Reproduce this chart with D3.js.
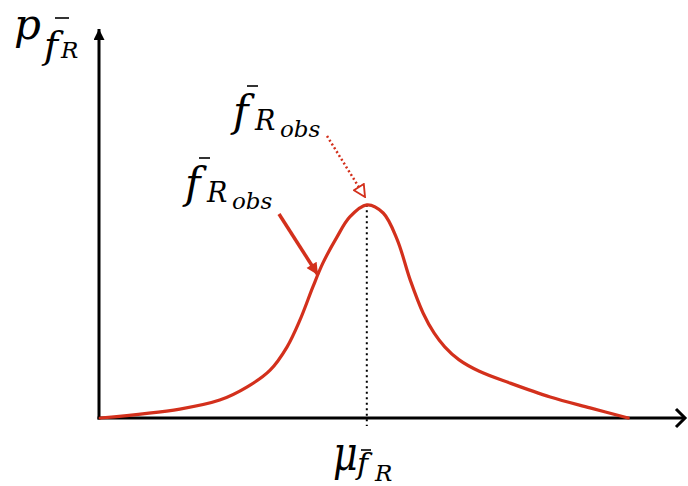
<!DOCTYPE html>
<html>
<head>
<meta charset="utf-8">
<script src="https://cdn.jsdelivr.net/npm/d3@7"></script>
<style>
  body { margin: 0; background: #fff; }
</style>
</head>
<body>
<div id="chart"></div>
<script>
// curve (x: 0..100 along the axis, y: 0..100 up the axis)
const curveX = [0.2, 13.8, 20.6, 25.3, 29.2, 32.1, 34.3, 36.5, 38.2, 40.6, 42.8, 45.7,
                48.5, 50.9, 53.1, 55.3, 57.2, 59.0, 61.4, 64.9, 70.1, 77.0, 83.8, 90.3];
const curveY = [0, 2.3, 4.6, 8.0, 12.3, 18.3, 25.2, 33.7, 39.8, 46.5, 51.7, 54.8,
                52.7, 45.8, 35.5, 27.0, 21.8, 18.3, 15.0, 12.0, 9.0, 5.4, 2.6, 0];
const peakX = 45.7;
const peakY = 54.8;

// =============================================
const width = 688, height = 486;
const red = '#d3301c';
const serif = 'DejaVu Serif';

let svg = d3.select('#chart')
            .append('svg')
            .attr('width', width)
            .attr('height', height);

let x = d3.scaleLinear().domain([0, 100]).range([99, 685]);
let y = d3.scaleLinear().domain([0, 100]).range([418, 29]);

let defs = svg.append('defs');
defs.append('marker')
    .attr('id', 'tri-black')
    .attr('viewBox', '0 0 10 10')
    .attr('refX', 10).attr('refY', 5)
    .attr('markerUnits', 'userSpaceOnUse')
    .attr('markerWidth', 16).attr('markerHeight', 11)
    .attr('orient', 'auto')
    .append('path')
    .attr('d', 'M0,0 L10,5 L0,10 Z')
    .attr('fill', '#000');

defs.append('marker')
    .attr('id', 'tri-red')
    .attr('viewBox', '0 0 10 10')
    .attr('refX', 10).attr('refY', 5)
    .attr('markerUnits', 'userSpaceOnUse')
    .attr('markerWidth', 15).attr('markerHeight', 12)
    .attr('orient', 'auto')
    .append('path')
    .attr('d', 'M0,0 L10,5 L0,10 Z')
    .attr('fill', red);

defs.append('marker')
    .attr('id', 'chev-red')
    .attr('viewBox', '-1 -1 12 12')
    .attr('refX', 10).attr('refY', 5)
    .attr('markerUnits', 'userSpaceOnUse')
    .attr('markerWidth', 14).attr('markerHeight', 14)
    .attr('orient', 'auto')
    .append('path')
    .attr('d', 'M0,0 L10,5 L0,10 Z')
    .attr('fill', '#fff')
    .attr('stroke', red)
    .attr('stroke-width', 1.6);

// axes
svg.append('line')
   .attr('x1', x(0)).attr('y1', y(0) + 1.5)
   .attr('x2', x(0)).attr('y2', y(100))
   .attr('stroke', '#000').attr('stroke-width', 3)
   .attr('marker-end', 'url(#tri-black)');

svg.append('line')
   .attr('x1', x(0) - 1.5).attr('y1', y(0))
   .attr('x2', x(100) - 1).attr('y2', y(0))
   .attr('stroke', '#000').attr('stroke-width', 3);

svg.append('path')
   .attr('d', `M${x(100) - 9},${y(0) - 9} L${x(100)},${y(0)} L${x(100) - 9},${y(0) + 9}`)
   .attr('fill', 'none')
   .attr('stroke', '#000').attr('stroke-width', 3);

// dotted line at the peak
svg.append('line')
   .attr('x1', x(peakX)).attr('y1', y(peakY))
   .attr('x2', x(peakX)).attr('y2', y(0) + 8)
   .attr('stroke', '#000').attr('stroke-width', 2)
   .attr('stroke-dasharray', '2,3.5');

// the curve
let line = d3.line()
             .x(function(d, i) { return x(curveX[i]); })
             .y(function(d, i) { return y(curveY[i]); })
             .curve(d3.curveCatmullRom.alpha(0.5));

svg.append('path')
   .datum(curveX)
   .attr('d', line)
   .attr('fill', 'none')
   .attr('stroke', red)
   .attr('stroke-width', 3.2)
   .attr('stroke-linecap', 'round');

// annotation arrows
svg.append('line')
   .attr('x1', 279).attr('y1', 214)
   .attr('x2', 318).attr('y2', 275)
   .attr('stroke', red).attr('stroke-width', 3.5)
   .attr('marker-end', 'url(#tri-red)');

svg.append('line')
   .attr('x1', 327).attr('y1', 136)
   .attr('x2', 365).attr('y2', 197)
   .attr('stroke', red).attr('stroke-width', 2.5)
   .attr('stroke-dasharray', '2,2.5')
   .attr('marker-end', 'url(#chev-red)');

// labels
function addBar(x1, x2, yy) {
  svg.append('line')
     .attr('x1', x1).attr('x2', x2)
     .attr('y1', yy).attr('y2', yy)
     .attr('stroke', '#000').attr('stroke-width', 1.6);
}

function addText(xx, yy, size, s, sy) {
  svg.append('text')
     .attr('transform', `translate(${xx},${yy}) scale(1,${sy || 1})`)
     .style('font-family', serif)
     .style('font-style', 'italic')
     .style('font-size', size + 'px')
     .attr('fill', '#000')
     .text(s);
}

// p_{f_R}
addText(14, 39, 42, 'p');
addText(44, 58, 38, 'f');
addText(61, 58, 23, 'R');
addBar(55, 69, 18);

// f_{R_obs}, upper and lower (same layout, shifted)
function fLabel(dx, dy) {
  addText(233 + dx, 126 + dy, 42, 'f');
  addText(255 + dx, 130 + dy, 27, 'R');
  addText(280 + dx, 137 + dy, 23, 'obs');
  addBar(247 + dx, 258 + dx, 86 + dy);
}
fLabel(0, 0);
fLabel(-48, 72);

// mu_{f_R}
addText(333, 470, 38, 'μ', 1.3);
addText(357, 474, 30, 'f');
addText(375, 481, 23, 'R');
addBar(361, 371, 450);
</script>
</body>
</html>
